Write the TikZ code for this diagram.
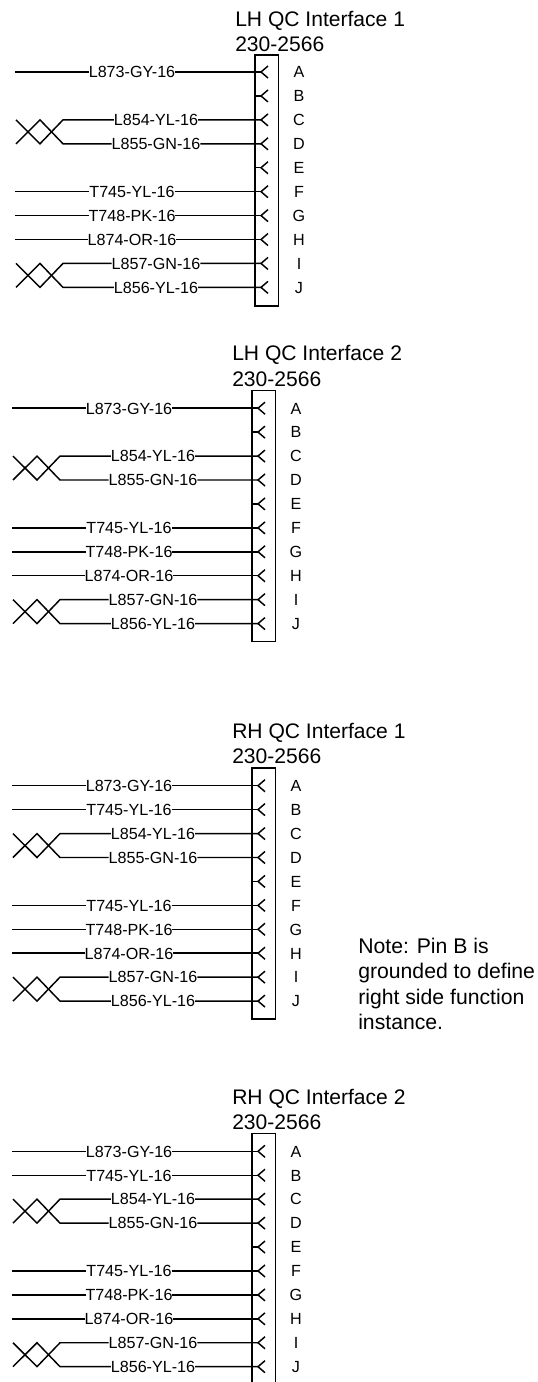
\documentclass[tikz,border=0pt]{standalone}
\usepackage{fontspec}
\setmainfont{Liberation Sans}
\tikzset{
  x=0.75pt,y=-0.75pt,
  wire/.style={line width=1.1pt,black,line join=miter},
  wirelabel/.style={inner sep=0pt,outer sep=0pt,font=\fontsize{12.1pt}{14pt}\selectfont,text height=8.7pt,text depth=0pt},
  pinlabel/.style={inner sep=0pt,font=\fontsize{12.1pt}{14pt}\selectfont,text height=8.7pt,text depth=0pt},
  titlelabel/.style={inner sep=0pt,anchor=west,font=\fontsize{15.8pt}{18pt}\selectfont,text height=11.3pt,text depth=0pt},
  notelabel/.style={inner sep=0pt,anchor=base west,font=\fontsize{15.9pt}{18pt}\selectfont},
  connbox/.style={draw,line width=1.1pt,inner sep=0pt,minimum width=23.5*0.75pt}
}
% pin: id, x offset, y, letter
\newcommand{\pinmark}[4]{%
  \coordinate (#1apex) at (#2+261,#3);
  \coordinate (#1up) at (#2+268,#3-6);
  \coordinate (#1dn) at (#2+268,#3+6);
  \draw[wire] (#1up) -- (#1apex) -- (#1dn);
  \node[pinlabel] (#1let) at (#2+299,#3) {#4};
}
% single wire: id, x offset, y, letter, text
\newcommand{\singlewire}[5]{%
  \pinmark{#1}{#2}{#3}{#4}
  \coordinate (#1from) at (#2+15,#3);
  \node[wirelabel] (#1lab) at (#2+132,#3) {#5};
  \draw[wire] (#1from) -- (#1lab) -- (#1apex);
}
% empty pin: id, x offset, y, letter
\newcommand{\emptypin}[4]{%
  \pinmark{#1}{#2}{#3}{#4}
  \coordinate (#1from) at (#2+255,#3);
  \draw[wire] (#1from) -- (#1apex);
}
% twisted pair: id, x offset, y top, letter1, letter2, text1, text2
\newcommand{\twistpair}[7]{%
  \pinmark{#1a}{#2}{#3}{#4}
  \pinmark{#1b}{#2}{#3+23.93}{#5}
  \coordinate (#1s1) at (#2+16,#3);
  \coordinate (#1m1) at (#2+40,#3+23.93);
  \coordinate (#1e1) at (#2+63,#3);
  \coordinate (#1s2) at (#2+16,#3+23.93);
  \coordinate (#1m2) at (#2+40,#3);
  \coordinate (#1e2) at (#2+63,#3+23.93);
  \node[wirelabel] (#1alab) at (#2+156,#3) {#6};
  \node[wirelabel] (#1blab) at (#2+156,#3+23.93) {#7};
  \draw[wire] (#1s1) -- (#1m1) -- (#1e1) -- (#1alab) -- (#1aapex);
  \draw[wire] (#1s2) -- (#1m2) -- (#1e2) -- (#1blab) -- (#1bapex);
}
% rows common to every connector: id, x offset, y of pin A
\newcommand{\commonrows}[3]{%
  \singlewire{#1A}{#2}{#3}{A}{L873-GY-16}
  \twistpair{#1C}{#2}{#3+47.86}{C}{D}{L854-YL-16}{L855-GN-16}
  \emptypin{#1E}{#2}{#3+95.72}{E}
  \singlewire{#1F}{#2}{#3+119.65}{F}{T745-YL-16}
  \singlewire{#1G}{#2}{#3+143.58}{G}{T748-PK-16}
  \singlewire{#1H}{#2}{#3+167.51}{H}{L874-OR-16}
  \twistpair{#1I}{#2}{#3+191.44}{I}{J}{L857-GN-16}{L856-YL-16}
}
\begin{document}
\begin{tikzpicture}
\useasboundingbox (0,0) rectangle (538,1382);
\fill[white] (0,0) rectangle (538,1382);

% LH QC Interface 1
\node[titlelabel] (t1a) at (235,19) {LH QC Interface 1};
\node[titlelabel] (t1b) at (235,43.5) {230-2566};
\node[connbox,minimum height=251*0.75pt] (box1) at (266.8,180.5) {};
\commonrows{s1}{0}{72}
\emptypin{s1B}{0}{95.93}{B}

% LH QC Interface 2
\node[titlelabel] (t2a) at (232,353.3) {LH QC Interface 2};
\node[titlelabel] (t2b) at (232,378.5) {230-2566};
\node[connbox,minimum height=251*0.75pt] (box2) at (263.8,516.2) {};
\commonrows{s2}{-3}{408.2}
\emptypin{s2B}{-3}{432.13}{B}

% RH QC Interface 1
\node[titlelabel] (t3a) at (232,731) {RH QC Interface 1};
\node[titlelabel] (t3b) at (232,755.7) {230-2566};
\node[connbox,minimum height=251*0.75pt] (box3) at (263.8,893.7) {};
\commonrows{s3}{-3}{785.7}
\singlewire{s3B}{-3}{809.63}{B}{T745-YL-16}

% Note
\node[notelabel] (n1) at (358,953) {Note: Pin B is};
\node[notelabel] (n2) at (358,978.5) {grounded to define};
\node[notelabel] (n3) at (358,1004) {right side function};
\node[notelabel] (n4) at (358,1029.5) {instance.};

% RH QC Interface 2
\node[titlelabel] (t4a) at (232,1097) {RH QC Interface 2};
\node[titlelabel] (t4b) at (232,1122) {230-2566};
\coordinate (b4tl) at (252.1,1133.5);
\coordinate (b4tr) at (275.6,1133.5);
\coordinate (b4bl) at (252.1,1390);
\coordinate (b4br) at (275.6,1390);
\begin{scope}
\clip (0,0) rectangle (538,1382);
\draw[wire] (b4bl) -- (b4tl) -- (b4tr) -- (b4br);
\end{scope}
\commonrows{s4}{-3}{1151.3}
\singlewire{s4B}{-3}{1175.23}{B}{T745-YL-16}
\end{tikzpicture}
\end{document}
